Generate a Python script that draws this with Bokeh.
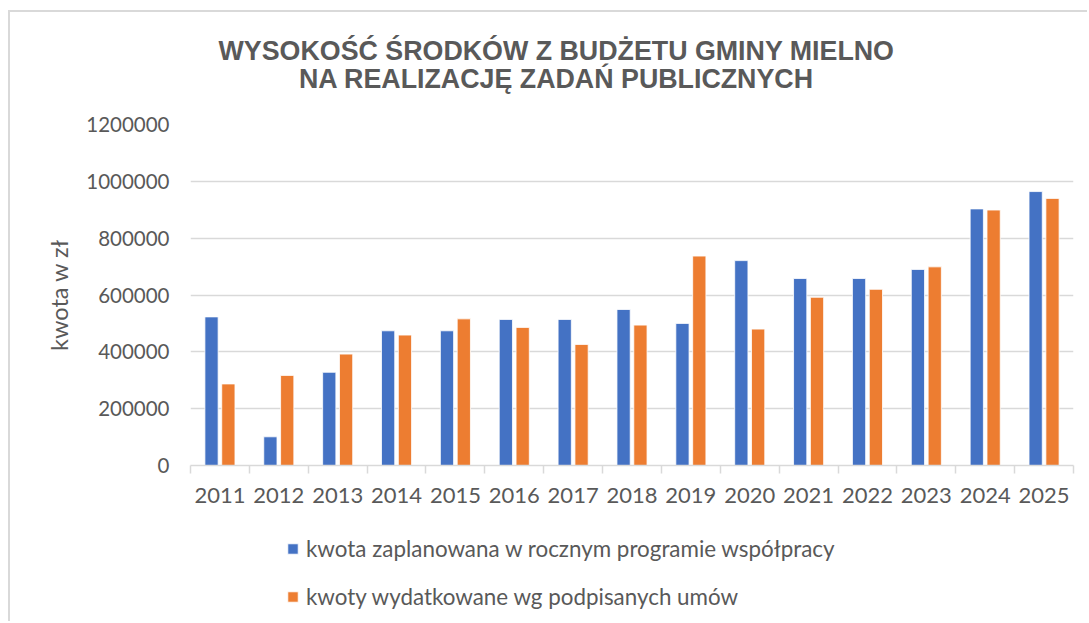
import numpy as np
from bokeh.plotting import figure
from bokeh.layouts import column
from bokeh.models import (Range1d, FixedTicker, NumeralTickFormatter, Legend,
                          LegendItem, Label, ColumnDataSource)
from bokeh.embed import file_html
from bokeh.resources import INLINE

# ---- data -------------------------------------------------------------
years = ["2011", "2012", "2013", "2014", "2015", "2016", "2017", "2018",
         "2019", "2020", "2021", "2022", "2023", "2024", "2025"]
planned = [523000, 101000, 328000, 474000, 474000, 514000, 514000, 549000,
           500000, 721000, 658000, 658000, 690000, 903000, 964000]
spent = [287000, 317000, 392000, 459000, 516000, 486000, 426000, 494000,
         737000, 480000, 592000, 620000, 699000, 899000, 940000]
series_names = ["kwota zaplanowana w rocznym programie współpracy",
                "kwoty wydatkowane wg podpisanych umów"]
y_ticks = [0, 200000, 400000, 600000, 800000, 1000000, 1200000]
title_lines = ["WYSOKOŚĆ ŚRODKÓW Z BUDŻETU GMINY MIELNO",
               "NA REALIZACJĘ ZADAŃ PUBLICZNYCH"]
y_label = "kwota w zł"

# ---- styling ----------------------------------------------------------
BLUE = "#4472C4"
ORANGE = "#ED7D31"
TXT = "#595959"
GRID = "#d9d9d9"
FONT = "Lato"
W = 1079
BL, BR = 180, 16          # frame insets shared by all strips
BORDER = "2px solid #d9d9d9"

# ---- title strip --------------------------------------------------------
H0 = 100
f0 = figure(width=W, height=H0, x_range=Range1d(BL, W - BR),
            y_range=Range1d(H0, 0),
            x_axis_type=None, y_axis_type=None, title=None,
            output_backend="svg", toolbar_location=None, min_border=0)
f0.outline_line_color = None
f0.grid.visible = False
f0.styles = {"border-left": BORDER, "border-top": BORDER}
for txt, yb in zip(title_lines, [38, 66]):
    f0.add_layout(Label(x=546, y=yb, text=txt, text_align="center",
                        text_baseline="alphabetic",
                        text_font="Liberation Sans", text_font_style="bold",
                        text_font_size="26.8px", text_color=TXT))

# ---- main chart ---------------------------------------------------------
idx = np.arange(len(years))
off = 0.143
bw = 0.225
src = ColumnDataSource(dict(x1=idx - off, x2=idx + off,
                            planned=planned, spent=spent))

p = figure(width=W, height=413, title=None,
           x_range=Range1d(-0.5, len(years) - 0.5),
           y_range=Range1d(0, 1200000),
           output_backend="svg", toolbar_location=None,
           min_border_left=BL, min_border_right=BR,
           min_border_top=14, min_border_bottom=58)
p.styles = {"border-left": BORDER}
p.outline_line_color = None

p.vbar(x="x1", top="planned", width=bw, source=src,
       fill_color=BLUE, line_color="white", line_width=0.8)
p.vbar(x="x2", top="spent", width=bw, source=src,
       fill_color=ORANGE, line_color="white", line_width=0.8)

xa = p.xaxis[0]
xa.ticker = FixedTicker(ticks=list(idx),
                        minor_ticks=list(np.arange(len(years) + 1) - 0.5))
xa.major_label_overrides = {int(i): y for i, y in zip(idx, years)}
xa.major_tick_out = 0
xa.major_tick_in = 0
xa.minor_tick_out = 8
xa.minor_tick_in = 0
xa.minor_tick_line_color = GRID
xa.minor_tick_line_width = 1.5
xa.axis_line_color = GRID
xa.axis_line_width = 1.5
xa.major_label_standoff = 14
xa.major_label_text_font = FONT
xa.major_label_text_font_size = "22px"
xa.major_label_text_color = TXT

ya = p.yaxis[0]
ya.ticker = FixedTicker(ticks=y_ticks)
ya.formatter = NumeralTickFormatter(format="0")
ya.axis_line_color = None
ya.major_tick_line_color = None
ya.minor_tick_line_color = None
ya.major_label_standoff = 15
ya.major_label_text_font = FONT
ya.major_label_text_font_size = "20.5px"
ya.major_label_text_color = TXT
ya.axis_label = y_label
ya.axis_label_standoff = 10
ya.axis_label_text_font = FONT
ya.axis_label_text_font_size = "23.5px"
ya.axis_label_text_font_style = "normal"
ya.axis_label_text_color = TXT

p.xgrid.grid_line_color = None
p.ygrid.grid_line_color = GRID
p.ygrid.grid_line_width = 1.5

# ---- legend strip -------------------------------------------------------
H2 = 98
f2 = figure(width=W, height=H2, x_range=Range1d(0, 1), y_range=Range1d(0, 1),
            x_axis_type=None, y_axis_type=None, title=None,
            output_backend="svg", toolbar_location=None, min_border=0)
f2.outline_line_color = None
f2.grid.visible = False
f2.styles = {"border-left": BORDER}
# hidden copies of the series, only used for the legend swatches
d1 = f2.vbar(x="x1", top="planned", width=bw, source=src, fill_color=BLUE,
             line_color="white", line_width=0.8, visible=False)
d2 = f2.vbar(x="x2", top="spent", width=bw, source=src, fill_color=ORANGE,
             line_color="white", line_width=0.8, visible=False)
legend = Legend(items=[LegendItem(label=series_names[0], renderers=[d1]),
                       LegendItem(label=series_names[1], renderers=[d2])],
                location=(96, 11), orientation="vertical",
                glyph_width=13, glyph_height=13, label_standoff=7,
                label_height=25, spacing=21, padding=0, margin=0,
                border_line_color=None, background_fill_alpha=0,
                label_text_font=FONT, label_text_font_size="22.4px",
                label_text_color=TXT, click_policy="none")
f2.add_layout(legend, "center")

layout = column(f0, p, f2, spacing=0)
layout.styles = {"margin-left": "8px", "margin-top": "10px"}

open("out.html", "w").write(file_html(layout, INLINE))
